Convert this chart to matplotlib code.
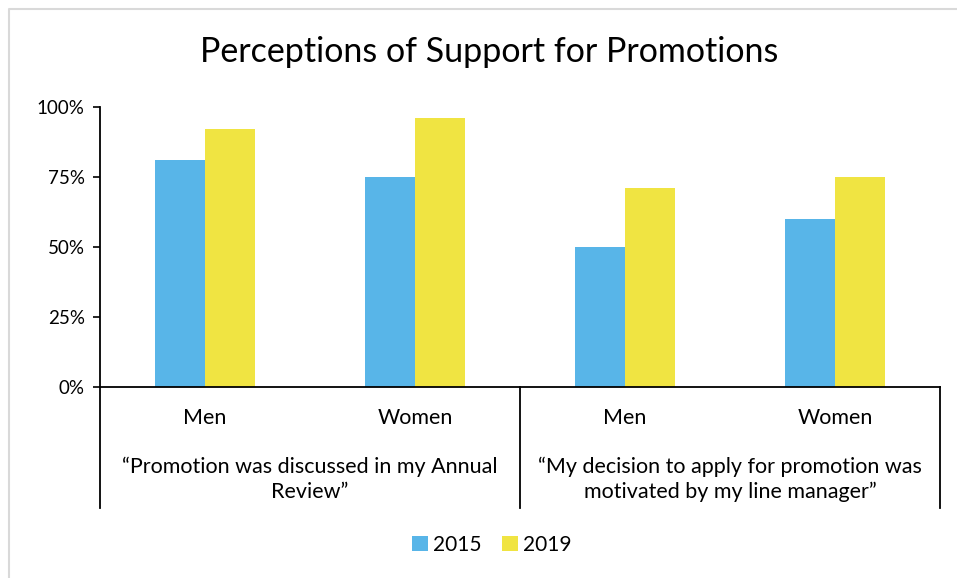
import matplotlib
matplotlib.use("Agg")
from matplotlib import pyplot as plt
from matplotlib.lines import Line2D
import numpy as np

categories = ['Men', 'Women', 'Men', 'Women']
groups = ['\u201cPromotion was discussed in my Annual\nReview\u201d',
          '\u201cMy decision to apply for promotion was\nmotivated by my line manager\u201d']
years = ['2015', '2019']
vals_2015 = [0.81, 0.75, 0.50, 0.60]
vals_2019 = [0.92, 0.96, 0.71, 0.75]
colors = ['#58B5E8', '#F0E442']

plt.rcParams['font.family'] = ['Lato', 'DejaVu Sans']

W, H = 957, 578
fig = plt.figure(figsize=(W / 100, H / 100), dpi=100)
# light outer frame (only top and left edges fall inside the picture)
fig.lines.append(Line2D([8.5 / W, 8.5 / W, 1], [0, 1 - 8.5 / H, 1 - 8.5 / H],
                        transform=fig.transFigure, color='#D9D9D9', lw=1.5))

ax = fig.add_axes([100 / W, 1 - 387 / H, 840 / W, 280 / H])
x = np.arange(len(categories))
bw = 50 / 210
ax.bar(x - bw / 2, vals_2015, bw, color=colors[0], label=years[0])
ax.bar(x + bw / 2, vals_2019, bw, color=colors[1], label=years[1])

ax.set_xlim(-0.5, 3.5)
ax.set_ylim(0, 1)
ax.set_yticks([0, 0.25, 0.5, 0.75, 1.0])
ax.set_yticklabels(['0%', '25%', '50%', '75%', '100%'], fontsize=13.5)
ax.tick_params(axis='y', length=5, width=1.2, direction='out', pad=6)
ax.set_xticks([])
for s in ['top', 'right']:
    ax.spines[s].set_visible(False)
ax.spines['left'].set_linewidth(1.3)
ax.spines['bottom'].set_linewidth(1.3)

# group separators below the axis
depth = (508 - 387) / 280
for xs in [-0.5, 1.5, 3.5]:
    ax.plot([xs, xs], [0, -depth], color='black', lw=1.3, clip_on=False,
            transform=ax.get_xaxis_transform())

for xi, c in zip(x, categories):
    ax.text(xi, -(418 - 387) / 280, c, transform=ax.get_xaxis_transform(),
            ha='center', va='center', fontsize=15.5)
for gi, g in enumerate(groups):
    ax.text(gi * 2 + 0.5, -(479 - 387) / 280, g, transform=ax.get_xaxis_transform(),
            ha='center', va='center', fontsize=15.5, linespacing=1.3)

fig.text(489 / W, 1 - 52 / H, 'Perceptions of Support for Promotions',
         ha='center', va='center', fontsize=24.5)

fig.legend(loc='center', bbox_to_anchor=(492 / W, 1 - 545 / H), ncol=2, frameon=False,
           fontsize=15, handlelength=0.75, handleheight=0.75, handletextpad=0.25,
           columnspacing=1.0)

fig.savefig('out.png', dpi=100)
